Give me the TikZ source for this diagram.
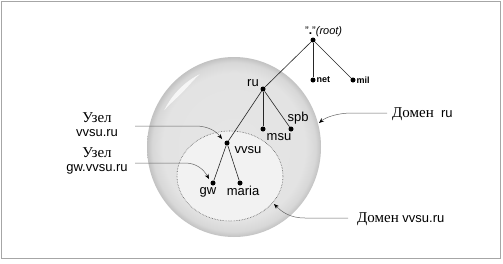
\documentclass[tikz,border=0pt]{standalone}
\usepackage{fontspec}
\setmainfont{Liberation Sans}
\newfontfamily\cyr{Liberation Serif}
\usetikzlibrary{arrows.meta}
\pgfdeclareradialshading{domball}{\pgfpoint{0bp}{0bp}}{color(0bp)=(gray!20); color(20.5bp)=(gray!22); color(23.5bp)=(gray!31); color(25bp)=(gray!48); color(50bp)=(gray!48)}
\begin{document}
\begin{tikzpicture}[x=1pt,y=-1pt,
  dot/.style={circle,fill=black,inner sep=0pt,minimum size=5pt},
  edge/.style={draw=black!85,line width=0.6pt},
  lbl/.style={inner sep=0pt,font=\fontsize{13}{13}\selectfont},
  small/.style={inner sep=0pt,anchor=west,font=\fontsize{9}{9}\selectfont\bfseries},
  cyrl/.style={inner sep=0pt,align=center,font=\fontsize{13}{14}\selectfont},
  leader/.style={draw=black!60,line width=0.5pt,-{Stealth[color=black,length=5pt,width=4pt]}}]
\useasboundingbox (0,0) rectangle (503,263);
\draw[gray!70,line width=1pt] (1.5,1.5) rectangle (500.5,258.5);
% big domain ball
\shade[shading=domball] (234,147) ellipse [x radius=87,y radius=90];
\fill[white,opacity=.75] plot[domain=116:153,samples=25] ({234+0.9*87*cos(\x)},{147-0.9*90*sin(\x)})
  -- plot[domain=153:116,samples=25] ({234+(0.9-0.05*sin((\x-116)*180/37))*87*cos(\x)},{147-(0.9-0.05*sin((\x-116)*180/37))*90*sin(\x)}) -- cycle;
% inner domain
\draw[black!65,densely dotted,line width=0.6pt,fill=gray!10] (230,176) ellipse [x radius=53,y radius=45];
% tree nodes
\node[dot] (root) at (313,40) {};
\node[dot] (net) at (313,80) {};
\node[dot] (mil) at (353,80) {};
\node[dot] (ru) at (263,89) {};
\node[dot] (msu) at (263,129) {};
\node[dot] (spb) at (291,129) {};
\node[dot] (vvsu) at (227,143) {};
\node[dot] (gw) at (213,183) {};
\node[dot] (maria) at (240,183) {};
\draw[edge] (root) -- (net);
\draw[edge] (root) -- (mil);
\draw[edge] (root) -- (ru);
\draw[edge] (ru) -- (msu);
\draw[edge] (ru) -- (spb);
\draw[edge] (ru) -- (vvsu);
\draw[edge] (vvsu) -- (gw);
\draw[edge] (vvsu) -- (maria);
% labels
\node[inner sep=0pt,anchor=base west,font=\fontsize{11}{11}\selectfont] (rootl) at (305,34) {"\textbf{\large.}"\textit{(root)}};
\node[small] (netl) at (316.5,80) {net};
\node[small] (mill) at (356.5,80) {mil};
\node[lbl] (rul) at (253,83) {ru};
\node[lbl] (spbl) at (298,118) {spb};
\node[lbl] (msul) at (279,137) {msu};
\node[lbl] (vvsul) at (248,150) {vvsu};
\node[lbl] (gwl) at (208,192) {gw};
\node[lbl] (marial) at (243,191) {maria};
\node[cyrl] (n1) at (97,125) {{\cyr\fontsize{15}{15}\selectfont Узел}\\vvsu.ru};
\node[cyrl] (n2) at (97,161) {{\cyr\fontsize{15}{15}\selectfont Узел}\\gw.vvsu.ru};
\node[cyrl,anchor=west] (d1) at (392,114) {{\cyr\fontsize{15}{15}\selectfont Домен}\ \ ru};
\node[cyrl,anchor=west] (d2) at (357,219) {{\cyr\fontsize{15}{15}\selectfont Домен}\ vvsu.ru};
% leaders
\coordinate (a1) at (135,126);
\coordinate (e1) at (222,139);
\coordinate (a2) at (135,163);
\coordinate (e2) at (209,179);
\coordinate (a3) at (387,113);
\coordinate (e3) at (319,123);
\coordinate (a4) at (348,218);
\coordinate (e4) at (274,204);
\draw[leader] (a1) -- (195,126) .. controls (208,126) and (216,131) .. (e1);
\draw[leader] (a2) -- (185,163) .. controls (197,163) and (204,170) .. (e2);
\draw[leader] (a3) -- (352,113) .. controls (338,113) and (326,117) .. (e3);
\draw[leader] (a4) -- (305,218) .. controls (290,218) and (282,212) .. (e4);
\end{tikzpicture}
\end{document}
